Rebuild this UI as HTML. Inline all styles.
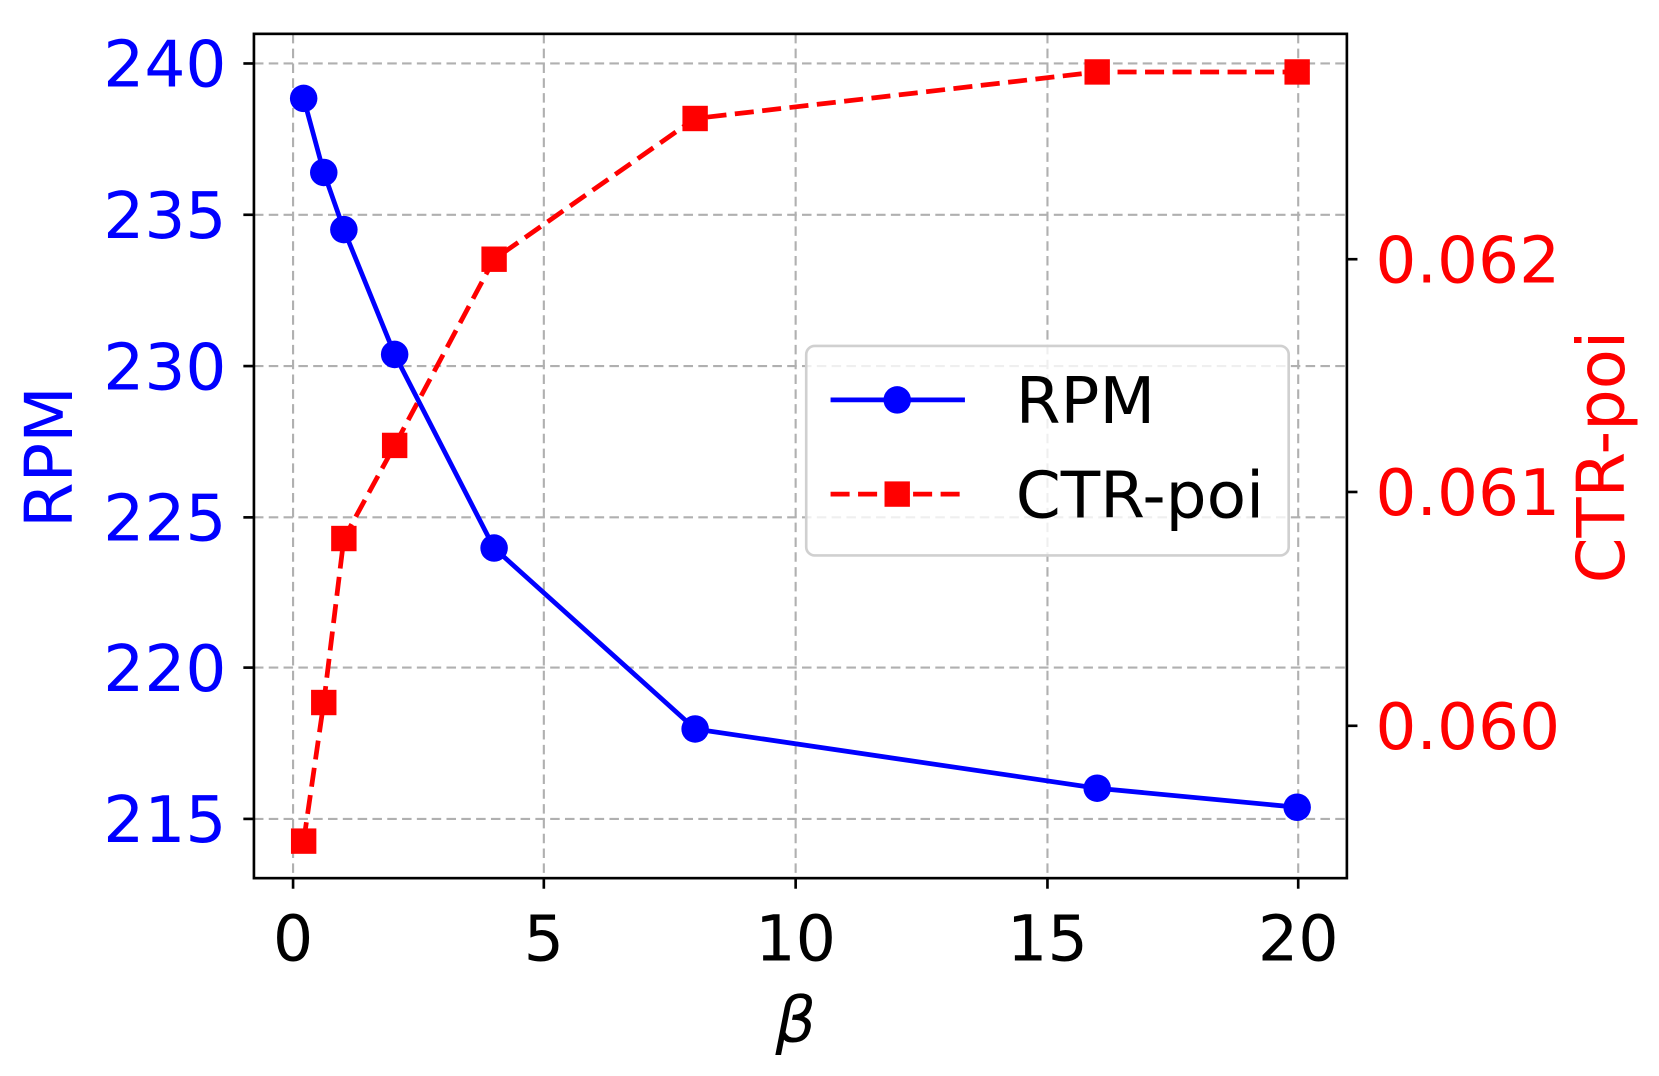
<!DOCTYPE html>
<html><head><style>html,body{margin:0;padding:0;background:#fff;}svg{display:block}</style></head>
<body>
<svg width="1659" height="1076" viewBox="0 0 1568 1017" preserveAspectRatio="none" xmlns="http://www.w3.org/2000/svg" font-family="'DejaVu Sans', 'Liberation Sans', sans-serif">
<rect width="1568" height="1017" fill="#fff"/>
<g stroke="#b0b0b0" stroke-width="2" stroke-dasharray="9,5">
<line x1="277" y1="32" x2="277" y2="830"/><line x1="514" y1="32" x2="514" y2="830"/><line x1="752" y1="32" x2="752" y2="830"/><line x1="990" y1="32" x2="990" y2="830"/><line x1="1227" y1="32" x2="1227" y2="830"/>
<line x1="240" y1="60" x2="1273" y2="60"/><line x1="240" y1="203" x2="1273" y2="203"/><line x1="240" y1="346" x2="1273" y2="346"/><line x1="240" y1="489" x2="1273" y2="489"/><line x1="240" y1="631" x2="1273" y2="631"/><line x1="240" y1="774" x2="1273" y2="774"/>
</g>
<rect x="240" y="32" width="1033" height="798" fill="none" stroke="#000" stroke-width="2.5"/>
<g stroke="#000" stroke-width="2.5">
<line x1="277" y1="830" x2="277" y2="840"/><line x1="514" y1="830" x2="514" y2="840"/><line x1="752" y1="830" x2="752" y2="840"/><line x1="990" y1="830" x2="990" y2="840"/><line x1="1227" y1="830" x2="1227" y2="840"/>
<line x1="230" y1="60" x2="240" y2="60"/><line x1="230" y1="203" x2="240" y2="203"/><line x1="230" y1="346" x2="240" y2="346"/><line x1="230" y1="489" x2="240" y2="489"/><line x1="230" y1="631" x2="240" y2="631"/><line x1="230" y1="774" x2="240" y2="774"/>
<line x1="1273" y1="245" x2="1283" y2="245"/><line x1="1273" y1="465" x2="1283" y2="465"/><line x1="1273" y1="686" x2="1283" y2="686"/>
</g>
<g font-size="60" fill="#000" text-anchor="middle">
<text x="277" y="908">0</text><text x="514" y="908">5</text><text x="752" y="908">10</text><text x="990" y="908">15</text><text x="1227" y="908">20</text>
</g>
<text x="752" y="985" font-size="60" font-style="italic" text-anchor="middle">β</text>
<g font-size="61" fill="#0000ff" text-anchor="end">
<text x="214" y="82">240</text><text x="214" y="225">235</text><text x="214" y="368">230</text><text x="214" y="511">225</text><text x="214" y="653">220</text><text x="214" y="796">215</text>
</g>
<g font-size="61" fill="#ff0000" text-anchor="start">
<text x="1300" y="267">0.062</text><text x="1300" y="487">0.061</text><text x="1300" y="708">0.060</text>
</g>
<text transform="translate(68,432) rotate(-90)" font-size="62" fill="#0000ff" text-anchor="middle">RPM</text>
<text transform="translate(1535,432) rotate(-90)" font-size="62" fill="#ff0000" text-anchor="middle">CTR-poi</text>
<polyline points="287,795 306,664 325,509 373,421 467,245 657,112 1037,68 1226,68" fill="none" stroke="#ff0000" stroke-width="4.5" stroke-dasharray="18,8"/>
<g fill="#ff0000">
<rect x="275" y="783" width="24" height="24"/><rect x="294" y="652" width="24" height="24"/><rect x="313" y="497" width="24" height="24"/><rect x="361" y="409" width="24" height="24"/><rect x="455" y="233" width="24" height="24"/><rect x="645" y="100" width="24" height="24"/><rect x="1025" y="56" width="24" height="24"/><rect x="1214" y="56" width="24" height="24"/>
</g>
<polyline points="287,93 306,163 325,217 373,335 467,518 657,689 1037,745 1226,763" fill="none" stroke="#0000ff" stroke-width="4.5"/>
<g fill="#0000ff">
<circle cx="287" cy="93" r="13"/><circle cx="306" cy="163" r="13"/><circle cx="325" cy="217" r="13"/><circle cx="373" cy="335" r="13"/><circle cx="467" cy="518" r="13"/><circle cx="657" cy="689" r="13"/><circle cx="1037" cy="745" r="13"/><circle cx="1226" cy="763" r="13"/>
</g>
<rect x="762" y="327" width="456" height="198" rx="8" fill="#fff" fill-opacity="0.8" stroke="#d0d0d0" stroke-width="2.5"/>
<line x1="785" y1="378" x2="912" y2="378" stroke="#0000ff" stroke-width="4.5"/>
<circle cx="848" cy="378" r="13" fill="#0000ff"/>
<line x1="785" y1="467" x2="912" y2="467" stroke="#ff0000" stroke-width="4.5" stroke-dasharray="18,8"/>
<rect x="836" y="455" width="24" height="24" fill="#ff0000"/>
<text x="960" y="400" font-size="61">RPM</text>
<text x="960" y="489" font-size="61">CTR-poi</text>
</svg>
</body></html>
